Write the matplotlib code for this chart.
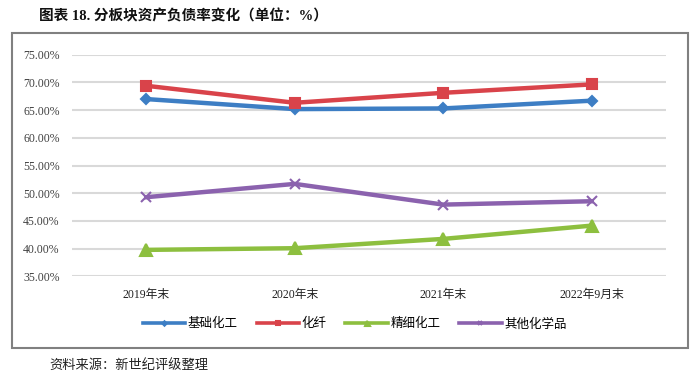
import matplotlib
matplotlib.use("Agg")
import matplotlib.pyplot as plt
from matplotlib.patches import Rectangle
from matplotlib.ticker import FuncFormatter

# data
periods = ["2019年末", "2020年末", "2021年末", "2022年9月末"]
basic_chem = [66.99, 65.18, 65.30, 66.70]      # 基础化工
chem_fiber = [69.39, 66.32, 68.12, 69.64]      # 化纤
fine_chem = [39.77, 40.07, 41.75, 44.15]       # 精细化工
other_chem = [49.28, 51.68, 47.94, 48.55]      # 其他化学品
series_names = ["基础化工", "化纤", "精细化工", "其他化学品"]

cjk = ["Noto Sans CJK SC", "DejaVu Sans"]
serif_cjk = ["Liberation Serif", "Noto Sans CJK SC"]
plt.rcParams["font.family"] = cjk

fig = plt.figure(figsize=(7.0, 3.82), dpi=100)
ax = fig.add_axes([72/700, 1-276.3/382, 594/700, (276.3-54.7)/382])

x = list(range(len(periods)))
styles = [
    (basic_chem, "#3D7EC4", "D", 5),
    (chem_fiber, "#D9434A", "s", 7.5),
    (fine_chem, "#8DBF3F", "^", 8),
    (other_chem, "#8B62AE", "x", 7),
]
for (vals, col, mk, ms), name in zip(styles, series_names):
    ax.plot(x, vals, color=col, linewidth=3.2, marker=mk, markersize=ms,
            markeredgewidth=1.5, markeredgecolor=col, label=name, zorder=3)

ax.set_xlim(-0.5, len(periods) - 0.5)
ax.set_ylim(35, 75)
ax.set_yticks([35, 40, 45, 50, 55, 60, 65, 70, 75])
ax.yaxis.set_major_formatter(FuncFormatter(lambda v, p: "%.2f%%" % v))
ax.set_xticks(x)
ax.set_xticklabels(periods)
ax.grid(axis="y", color="#d9d9d9", linewidth=1.5, zorder=0)
for s in ax.spines.values():
    s.set_visible(False)
ax.tick_params(length=0)
ax.tick_params(axis="y", pad=9, labelsize=8.5, labelcolor="#404040")
ax.tick_params(axis="x", pad=9, labelsize=8.5, labelcolor="#202020")
for lab in ax.get_yticklabels() + ax.get_xticklabels():
    lab.set_family(serif_cjk)

leg = ax.legend(loc="center", bbox_to_anchor=(0.476, -0.215), ncol=4, frameon=False,
                fontsize=9, handlelength=3.4, columnspacing=1.5, handletextpad=0.2,
                markerscale=0.45)
for ln in leg.get_lines():
    ln.set_linewidth(2.6)

# outer frame
fig.patches.append(Rectangle((12/700, 1-348/382), 676/700, 315/382,
                             transform=fig.transFigure, fill=False,
                             edgecolor="#808080", linewidth=1.5))

fig.text(39/700, 1-16/382, "图表 18. 分板块资产负债率变化（单位：%）",
         fontsize=10.5, fontweight="bold", va="center", ha="left",
         family=serif_cjk, color="#111111")
fig.text(49/700, 1-365/382, "资料来源：新世纪评级整理",
         fontsize=9.5, va="center", ha="left", family=serif_cjk, color="#222222")

fig.savefig("out.png", dpi=100)
